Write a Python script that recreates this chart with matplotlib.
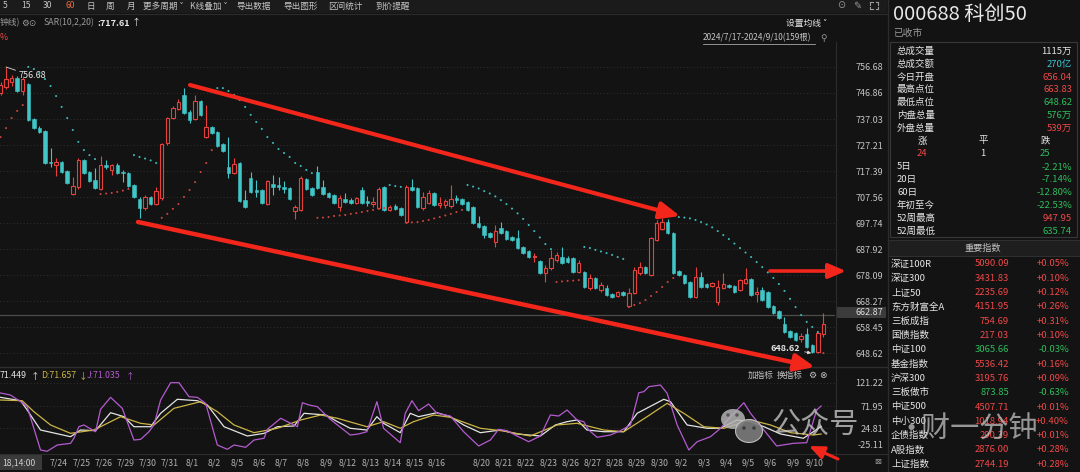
import numpy as np
import matplotlib
matplotlib.use("Agg")
import matplotlib.pyplot as plt
from matplotlib.patches import Rectangle, Ellipse

plt.rcParams['font.family'] = ['Noto Sans CJK SC', 'DejaVu Sans']

# --- 60-minute bars of 科创50 ---
opens = [
    746.86, 749.12, 751.01, 752.52, 747.61, 750.25, 737.04, 733.64, 732.50, 720.80,
    719.66, 720.80, 717.40, 708.71, 711.35, 721.55, 717.02, 714.00, 710.60, 719.66,
    717.77, 719.66, 717.02, 716.64, 712.11, 706.82, 703.42, 707.58, 704.93, 707.20,
    727.97, 737.41, 740.81, 746.10, 739.68, 737.04, 743.83, 730.24, 734.02, 732.13,
    727.59, 718.91, 716.64, 720.42, 706.44, 714.75, 710.22, 710.22, 704.93, 712.49,
    712.11, 711.35, 710.98, 702.29, 702.67, 714.38, 710.98, 717.02, 711.35, 709.09,
    708.33, 703.80, 706.82, 706.44, 705.31, 710.22, 706.07, 704.93, 703.42, 711.35,
    702.67, 704.18, 703.42, 698.14, 711.35, 710.98, 703.42, 705.31, 709.09, 704.56,
    704.56, 704.18, 707.20, 706.82, 705.69, 703.80, 697.76, 696.62, 693.98, 690.58,
    695.87, 694.74, 692.47, 692.10, 688.69, 687.18, 684.92, 683.41, 678.88, 680.77,
    683.79, 684.92, 684.54, 684.54, 679.26, 679.26, 673.21, 676.99, 672.46, 673.21,
    670.95, 670.19, 671.70, 666.41, 671.33, 678.88, 681.14, 678.12, 691.34, 695.49,
    698.14, 693.98, 679.64, 678.12, 675.47, 669.81, 677.37, 674.72, 673.97, 667.92,
    673.21, 674.34, 673.97, 672.46, 675.10, 676.61, 670.95, 672.46, 671.70, 666.41,
    664.52, 659.61, 656.97, 656.21, 653.95, 655.84, 651.68, 648.90, 655.84]
highs = [
    751.01, 756.68, 753.66, 753.28, 752.90, 750.63, 737.41, 734.39, 732.88, 726.08,
    722.31, 721.17, 717.77, 715.13, 722.31, 721.93, 717.40, 718.53, 723.06, 721.55,
    720.04, 720.42, 717.77, 717.02, 712.49, 707.58, 708.33, 707.96, 711.35, 727.97,
    737.79, 741.95, 744.59, 748.74, 740.44, 746.10, 744.21, 742.32, 734.39, 732.50,
    727.97, 730.24, 722.31, 720.80, 710.22, 717.02, 714.00, 710.60, 714.00, 715.89,
    715.13, 713.62, 711.35, 704.56, 715.51, 714.75, 711.35, 719.29, 714.00, 709.47,
    708.71, 708.33, 709.09, 707.20, 707.58, 711.35, 707.96, 707.58, 711.35, 711.73,
    704.56, 704.93, 703.80, 712.11, 714.38, 711.35, 709.47, 710.22, 709.47, 707.58,
    706.82, 712.11, 708.33, 707.20, 706.07, 704.18, 700.40, 697.00, 694.36, 697.00,
    698.14, 695.12, 692.85, 695.12, 689.07, 687.56, 686.43, 683.79, 681.90, 687.56,
    686.80, 688.69, 685.30, 684.92, 683.79, 679.64, 678.50, 677.37, 675.47, 674.34,
    671.33, 672.08, 672.08, 673.21, 681.14, 683.03, 681.52, 692.47, 698.89, 699.65,
    699.27, 694.36, 680.01, 678.50, 675.85, 681.14, 679.26, 675.10, 675.47, 676.23,
    678.88, 674.72, 674.34, 676.61, 680.77, 676.99, 673.59, 673.59, 672.08, 666.79,
    664.90, 662.26, 657.35, 656.59, 656.21, 658.10, 652.06, 656.59, 663.83]
lows = [
    746.10, 748.37, 749.50, 747.23, 746.10, 736.28, 733.26, 731.75, 720.04, 718.91,
    715.51, 716.64, 712.49, 708.33, 710.60, 716.26, 713.24, 710.60, 710.22, 718.15,
    715.89, 716.26, 713.24, 711.35, 707.20, 699.65, 702.67, 704.56, 704.56, 706.44,
    727.22, 737.04, 740.44, 738.92, 735.53, 736.66, 738.17, 729.86, 731.37, 726.46,
    724.57, 714.75, 716.26, 705.69, 703.42, 709.09, 707.58, 704.93, 704.56, 708.33,
    710.22, 709.09, 706.44, 699.27, 702.29, 710.22, 707.96, 710.60, 708.33, 707.20,
    704.93, 702.29, 705.31, 704.93, 704.93, 704.93, 704.18, 703.80, 703.05, 702.29,
    702.29, 702.67, 700.40, 697.76, 709.84, 703.42, 702.67, 704.93, 704.18, 703.42,
    703.42, 703.42, 705.31, 704.56, 702.29, 697.38, 695.87, 692.10, 692.10, 688.69,
    693.60, 691.34, 690.96, 687.94, 686.05, 684.54, 683.03, 678.50, 675.47, 680.01,
    683.03, 682.27, 682.65, 678.88, 678.88, 673.21, 672.46, 672.84, 671.70, 670.19,
    669.43, 669.81, 670.19, 666.03, 670.95, 678.12, 678.50, 677.74, 690.96, 695.12,
    693.60, 678.50, 677.74, 674.72, 669.43, 669.43, 673.21, 673.21, 673.59, 666.79,
    672.84, 673.21, 671.33, 672.08, 674.72, 670.19, 667.92, 668.30, 665.65, 663.39,
    661.50, 656.21, 654.32, 653.19, 652.81, 650.54, 648.62, 648.80, 654.70]
closes = [
    749.88, 752.14, 752.52, 747.61, 752.14, 736.66, 733.64, 732.13, 720.42, 720.42,
    720.80, 717.02, 712.86, 711.73, 721.55, 716.64, 713.62, 710.98, 719.66, 718.91,
    719.66, 716.64, 716.64, 711.73, 707.58, 703.42, 707.58, 704.93, 709.84, 727.59,
    737.41, 741.19, 743.46, 739.30, 736.66, 743.83, 738.55, 734.02, 731.75, 726.84,
    724.95, 716.64, 720.04, 706.07, 703.80, 709.47, 709.47, 705.31, 713.62, 711.35,
    711.35, 710.60, 706.82, 703.80, 714.75, 710.60, 708.33, 710.98, 708.71, 707.58,
    705.31, 707.20, 705.69, 705.31, 707.20, 705.31, 705.31, 705.69, 710.60, 702.67,
    703.80, 703.05, 700.78, 711.35, 710.22, 703.80, 707.58, 709.09, 704.56, 705.31,
    706.07, 706.82, 706.44, 704.93, 702.67, 697.76, 696.25, 693.23, 692.47, 694.74,
    693.98, 691.71, 691.34, 688.32, 686.43, 684.92, 685.30, 678.88, 680.77, 684.54,
    685.67, 682.65, 683.03, 679.26, 682.65, 673.59, 676.99, 673.21, 674.34, 670.57,
    669.81, 671.70, 670.57, 671.33, 680.01, 681.14, 678.88, 692.10, 697.76, 698.14,
    693.98, 678.88, 678.12, 675.10, 669.81, 677.37, 673.59, 673.59, 675.10, 673.59,
    674.72, 673.59, 671.70, 676.23, 676.61, 670.57, 671.70, 668.68, 666.03, 663.77,
    661.88, 656.59, 654.70, 653.57, 655.08, 650.92, 649.04, 656.21, 659.61]

# SAR(10,2,20) dots
sar = [
    730.2, 733.6, 737.4, 740.1, 742.3,
    756.7, 755.9, 754.4, 752.1, 749.5, 745.7, 741.6, 737.4, 732.9, 728.4, 725.3, 723.4, 721.9,
    708.7, 708.9, 709.1, 709.5, 710.0, 710.6,
    723.4, 722.7, 722.1, 721.4, 720.4,
    699.7, 701.2, 703.1, 704.9, 707.6, 710.2, 713.2, 717.0, 720.4, 725.3,
    748.7, 748.7, 747.6, 746.1, 744.2, 741.6, 738.6, 735.9, 733.3, 730.2, 728.0, 725.7,
    724.2, 722.7, 720.4, 719.3, 717.8, 716.6,
    699.7, 699.8, 700.0, 700.4, 700.6, 700.8, 701.2, 701.5, 701.9, 702.3, 702.7, 703.1, 703.4,
    712.1, 711.7, 711.4,
    697.8, 698.0, 698.1, 698.5, 698.9, 699.5, 700.0, 700.6, 701.2, 701.9, 702.7,
    712.1, 711.5, 710.8, 709.8, 708.9, 707.8, 706.4, 704.9, 703.2, 701.4, 699.3, 697.0,
    694.7, 692.3, 689.8, 687.9,
    675.5, 675.7, 675.9, 676.0, 676.2,
    688.7, 688.3, 687.6, 687.0, 686.4, 685.7, 684.9, 684.2,
    666.0, 666.8, 667.5, 668.7, 670.2, 671.7, 673.6, 675.5, 677.0,
    700.0, 699.8, 699.5, 698.9, 698.1, 697.2, 696.1, 694.7, 693.2, 691.7, 690.0, 688.3,
    686.6, 684.9, 683.0, 681.1, 679.1, 677.0, 674.7, 672.1, 669.1, 666.0, 663.0, 660.4,
    658.5, 656.6,
    648.62]
last_price = 662.87

# KDJ lines: (bar position, value) vertices
kdj_k_pos = [0, 3.6, 4.8, 7.2, 12.6, 14.4, 17.1, 19.8, 22.2, 24.0, 27.0, 28.8, 31.8, 35.4,
             37.2, 40.2, 44.4, 47.4, 49.8, 52.8, 54.6, 58.5, 60.6, 62.9, 65.9, 67.7, 68.9,
             71.9, 73.7, 75.2, 78.5, 80.9, 83.3, 86.3, 89.9, 92.9, 97.1, 99.8, 101.9, 103.7,
             105.5, 108.5, 112.1, 114.5, 119.3, 120.5, 123.5, 127.1, 129.5, 132.5, 134.9,
             137.3, 140.3, 144.4, 146.2, 147.6]
kdj_k = [90.5, 83.3, 63.4, 20.5, 6.2, 20.5, 19.1, 57.6, 49.1, 27.6, 27.6, 56.3, 86.3, 83.3,
         74.1, 27.6, 7.7, 13.4, 27.6, 29.1, 56.3, 52.7, 38.4, 24.2, 20.5, 49.1, 34.9, 14.8,
         56.3, 49.1, 57.6, 49.1, 31.3, 14.8, 20.5, 12.0, 7.7, 31.3, 38.4, 42.0, 20.5, 16.9,
         16.9, 56.3, 86.3, 81.2, 31.3, 24.2, 24.2, 42.0, 38.4, 27.6, 12.0, 2.8, 16.9, 28.0]
kdj_d_pos = [0, 3.9, 6.0, 9.0, 12.6, 16.8, 21.6, 25.2, 27.6, 31.2, 36.0, 39.0, 42.0, 45.6,
             49.8, 54.0, 57.6, 60.6, 65.9, 68.9, 71.9, 74.3, 77.9, 80.9, 86.3, 90.5, 95.3,
             100.1, 103.7, 108.5, 112.1, 116.3, 119.9, 122.9, 126.5, 130.1, 134.9, 138.5,
             142.1, 146.2, 147.6]
kdj_d = [84.8, 83.3, 59.8, 31.3, 13.4, 20.5, 49.1, 34.9, 31.3, 67.0, 81.2, 59.8, 31.3, 14.8,
         24.2, 42.0, 52.7, 45.6, 27.6, 38.4, 24.2, 38.4, 52.7, 47.7, 24.2, 18.4, 7.7, 31.3,
         34.9, 20.5, 16.9, 49.1, 77.7, 56.3, 27.6, 24.2, 42.0, 31.3, 14.8, 9.8, 12.0]
kdj_j_pos = [0, 1.8, 3.9, 4.8, 7.2, 8.4, 10.2, 12.6, 13.2, 14.1, 15.0, 17.1, 18.0, 19.8,
             21.9, 24.0, 25.2, 26.7, 27.6, 28.8, 30.6, 32.1, 33.9, 35.4, 36.9, 39.0, 40.8,
             42.0, 44.1, 45.6, 47.4, 48.0, 50.4, 52.2, 53.4, 54.3, 55.5, 57.0, 59.1, 60.6,
             62.9, 64.4, 65.9, 67.7, 68.9, 71.9, 72.8, 74.0, 75.2, 77.0, 78.5, 80.9, 83.3,
             86.0, 88.1, 89.6, 91.1, 92.9, 95.0, 97.1, 98.9, 100.4, 101.9, 103.7, 104.9,
             105.8, 107.3, 109.7, 111.5, 113.3, 114.8, 115.7, 116.6, 118.7, 119.9, 121.7,
             123.8, 125.3, 127.7, 129.5, 131.3, 133.7, 134.9, 137.3, 139.6, 142.6, 145.0,
             146.8, 147.6]
kdj_j = [99.8, 95.5, 79.0, 70.5, -22.3, -25.0, -11.6, -8.0, 2.8, 27.6, 31.3, 16.9, 64.9,
         90.5, 67.0, -0.9, 0.5, 16.9, 31.3, 84.8, 121.9, 121.9, 91.9, 90.5, 77.7, -11.6,
         -20.8, -11.6, -16.5, -0.9, 2.8, 22.0, 45.6, 34.9, 27.6, 79.0, 74.1, 70.5, 45.6,
         31.3, 9.8, 12.0, 16.9, 81.2, 24.2, -6.6, 56.3, 83.3, 61.9, 76.2, 56.3, 50.5, 16.9,
         -13.7, -0.9, 22.0, 19.1, 7.7, -4.5, 7.7, 52.7, 50.5, 63.4, 42.0, 38.4, 20.5, 4.9,
         9.8, 19.1, 31.3, 100.4, 102.6, 113.3, 116.9, 99.1, 31.3, -22.3, -4.5, 6.2, 24.2,
         49.1, 79.0, 56.3, 20.5, -13.7, -8.0, -6.6, 63.4, 72.0]

days = ['7/24', '7/25', '7/26', '7/29', '7/30', '7/31', '8/1', '8/2', '8/5', '8/6', '8/7',
        '8/8', '8/9', '8/12', '8/13', '8/14', '8/15', '8/16', '8/19', '8/20', '8/21', '8/22',
        '8/23', '8/26', '8/27', '8/28', '8/29', '8/30', '9/2', '9/3', '9/4', '9/5', '9/6',
        '9/9', '9/10']
hidden_days = ['8/19']
price_ticks = [756.68, 746.86, 737.03, 727.21, 717.39, 707.56, 697.74, 687.92, 678.09,
               668.27, 658.45, 648.62]
kdj_ticks = [121.22, 71.95, 24.81]
kdj_low_label = '-25.11'

# right-hand quote panel
stat_names = ['总成交量', '总成交额', '今日开盘', '最高点位', '最低点位', '内盘总量', '外盘总量']
stat_values = ['1115万', '270亿', '656.04', '663.83', '648.62', '576万', '539万']
breadth_names = ['涨', '平', '跌']
breadth_counts = [24, 1, 25]
perf_names = ['5日', '20日', '60日', '年初至今', '52周最高', '52周最低']
perf_values = ['-2.21%', '-7.14%', '-12.80%', '-22.53%', '947.95', '635.74']
index_names = ['深证100R', '深证300', '上证50', '东方财富全A', '三板成指', '国债指数', '中证100',
               '基金指数', '沪深300', '三板做市', '中证500', '中小300', '企债指数', 'A股指数', '上证指数']
index_values = [5090.09, 3431.83, 2235.69, 4151.95, 754.69, 217.03, 3065.66, 5536.42,
                3195.76, 873.85, 4507.71, 1018.94, 290.39, 2876.00, 2744.19]
index_changes = [0.05, 0.10, 0.12, 0.26, 0.31, 0.10, -0.03, 0.16, 0.09, -0.63, 0.01, 0.40,
                 0.01, 0.28, 0.28]

# --- style ---
W, H = 1080, 472
BG = '#131313'
RED = '#e8413d'
CYAN = '#41c5c7'
ARROW = '#f2261b'
UPRED = '#f04848'
GREEN = '#2fbd5c'
TEAL = '#3cc4d0'
TXT = '#c4c4c4'
GREY = '#9a9a9a'
WHITE = '#e6e6e6'
LINE = '#2c2c2c'
PX_BAR = 5.56    # pixels per bar in the reference

fig = plt.figure(figsize=(W / 100, H / 100), dpi=100, facecolor=BG)


def rect(x0, y0, x1, y1):
    return [x0 / W, 1 - y1 / H, (x1 - x0) / W, (y1 - y0) / H]


ax = fig.add_axes(rect(0, 45, 835, 365), facecolor=BG)
kx = fig.add_axes(rect(0, 368, 835, 452), facecolor=BG)
ov = fig.add_axes([0, 0, 1, 1])
ov.set_xlim(0, W)
ov.set_ylim(H, 0)
ov.axis('off')

xlim = (-0.5 / PX_BAR, (835 - 0.5) / PX_BAR)
for a in (ax, kx):
    a.set_xlim(*xlim)
    for s in a.spines.values():
        s.set_visible(False)

# --- candles ---
o, h, l, c = (np.array(v) for v in (opens, highs, lows, closes))
idx = np.arange(len(o))
up = c > o
ax.vlines(idx, l, h, colors=np.where(up, RED, CYAN), lw=0.8, zorder=2)
lo = np.minimum(o, c)
hh = np.maximum(np.abs(c - o), 0.3)
ax.bar(idx[up], hh[up], bottom=lo[up], width=0.62, facecolor=BG, edgecolor=RED,
       lw=0.8, zorder=3)
ax.bar(idx[~up], hh[~up], bottom=lo[~up], width=0.62, facecolor=CYAN, edgecolor=CYAN,
       lw=0.4, zorder=3)

# SAR dots: red below price, cyan above
sar_a = np.array(sar)
sar_col = np.where(sar_a < (h + l) / 2, '#c9433d', '#3cb8b8')
ax.scatter(idx, sar_a, s=2.2, c=sar_col, linewidths=0, zorder=4)

ax.set_ylim(644.13, 764.98)
for p in price_ticks:
    ax.axhline(p, color='#3a3a3a', lw=0.6, ls=(0, (1, 3)), zorder=0)
ax.axhline(last_price, color='#4c4c4c', lw=0.9, zorder=1)
ax.set_xticks([])
ax.yaxis.tick_right()
ax.set_yticks(price_ticks)
ax.set_yticklabels([f'{p:.2f}' for p in price_ticks], ha='right')
ax.tick_params(axis='y', length=0, pad=34.5, labelsize=6.5, labelcolor=TXT)

hi = int(np.argmax(h))
ax.annotate(f'{h[hi]:.2f}', xy=(hi, h[hi]), xytext=(hi + 2.2, h[hi] - 3.4),
            color=WHITE, fontsize=6.5, va='center',
            arrowprops=dict(arrowstyle='-', color='#dddddd', lw=0.6, shrinkA=0, shrinkB=0))
li = int(np.argmin(l))
ax.annotate(f'{l[li]:.2f}', xy=(li - 0.2, l[li]), xytext=(li - 2.1, l[li] + 1.9),
            color=WHITE, fontsize=6.5, va='center', ha='right', fontweight='bold',
            arrowprops=dict(arrowstyle='-|>,head_length=0.3,head_width=0.15',
                            color='#dddddd', lw=0.6, shrinkA=1, shrinkB=0))

# --- KDJ ---
kx.plot(kdj_k_pos, kdj_k, color='#e4e4e4', lw=0.9, zorder=3)
kx.plot(kdj_d_pos, kdj_d, color='#cbb546', lw=0.9, zorder=3)
kx.plot(kdj_j_pos, kdj_j, color='#b45bd0', lw=0.9, zorder=3)
kx.set_ylim(-26.58, 153.35)
for v in kdj_ticks:
    kx.axhline(v, color='#3a3a3a', lw=0.6, ls=(0, (1, 3)), zorder=0)
kx.yaxis.tick_right()
kx.set_yticks(kdj_ticks)
kx.set_yticklabels([f'{v:.2f}' for v in kdj_ticks], ha='right')
kx.tick_params(axis='y', length=0, pad=34.5, labelsize=6.5, labelcolor=TXT)
shown = [d for d in days if d not in hidden_days]
kx.set_xticks([10.5 + 4 * days.index(d) for d in shown])
kx.set_xticklabels(shown)
kx.tick_params(axis='x', length=0, pad=4.5, labelsize=6.3, labelcolor='#b0b0b0')


# --- chrome drawn in pixel space ---
def t(x, y, s, color=TXT, size=6.5, ha='left', **kw):
    ov.text(x, y, s, color=color, fontsize=size, ha=ha, va='center', **kw)


ov.add_patch(Rectangle((0, 0), 887, 13, facecolor='#1b1b1b', edgecolor='none'))
ov.plot([0, 887], [13.5, 13.5], color=LINE, lw=0.8)
ov.plot([835.5, 835.5], [42, 472], color=LINE, lw=0.8)
ov.plot([0, 887], [366.5, 366.5], color='#2e2e2e', lw=1.0)
ov.plot([0, 887], [453.5, 453.5], color=LINE, lw=0.8)
ov.plot([887.5, 887.5], [0, 472], color=LINE, lw=1.0)

toolbar = [(3, '5'), (21, '15'), (43, '30'), (65, '60'), (87, '日'), (106, '周'), (127, '月'),
           (143, '更多周期 ˅'), (190, 'K线叠加 ˅'), (236, '导出数据'), (283, '导出图形'),
           (328, '区间统计'), (375, '到价提醒')]
for x, s in toolbar:
    t(x, 6, s, color='#ec6a3a' if s == '60' else TXT, size=6.2)
t(837, 5.5, '⊙', color=GREY, size=7, family='DejaVu Sans')
t(853, 5.5, '✎', color=GREY, size=7, family='DejaVu Sans')
# expand icon: four small corner marks
for sx in (-1, 1):
    for sy in (-1, 1):
        cx, cy = 874 + 4 * sx, 5.5 + 3.5 * sy
        ov.plot([cx, cx - 2.5 * sx], [cy, cy], color=GREY, lw=0.8)
        ov.plot([cx, cx], [cy, cy - 2.5 * sy], color=GREY, lw=0.8)

t(0, 23, '钟线)', color=GREY, size=6.3)
t(21, 23, '⚙', color=GREY, size=6.3, family='DejaVu Sans')
t(28, 23, '⊙', color=GREY, size=6.3, family='DejaVu Sans')
t(44, 23, 'SAR(10,2,20)', color=GREY, size=6.3)
t(97, 23, ':717.61', color=WHITE, size=6.5, fontweight='bold')
t(132, 23, '↑', color=WHITE, size=6.5)
t(0, 38, '%', color=UPRED, size=6.3)
t(786, 23, '设置均线 ˅', color=WHITE, size=6.3)
t(703, 38, '2024/7/17-2024/9/10(159根)', color=TXT, size=6.0)
ov.plot([703, 815], [43.5, 43.5], color=TXT, lw=0.5)
t(820, 38, '⚲', color=GREY, size=6.3, family='DejaVu Sans')

# price marker box
ov.add_patch(Rectangle((836, 307), 50, 11, facecolor='#3b3b3b', edgecolor='none'))
t(883, 312.5, f'{last_price:.2f}', color='#dcdcdc', size=6.5, ha='right')

# KDJ header
t(0, 376, '71.449', color=WHITE, size=6.3)
t(31, 376, '↑', color=WHITE, size=6.3)
t(41, 376, 'D:71.657', color='#cbb546', size=6.3)
t(79, 376, '↓', color='#cbb546', size=6.3)
t(87, 376, 'J:71.035', color='#b45bd0', size=6.3)
t(126, 376, '↑', color='#b45bd0', size=6.3)
t(748, 375, '加指标', color=TXT, size=6.2)
t(777, 375, '换指标', color=TXT, size=6.2)
t(808, 375, '⚙', color=TXT, size=6.5, family='DejaVu Sans')
t(819, 375, '⊗', color=TXT, size=6.5, family='DejaVu Sans')
t(883, 445, kdj_low_label, color=TXT, size=6.5, ha='right')
t(874, 462, '⊠', color=GREY, size=6.0, family='DejaVu Sans')

ov.add_patch(Rectangle((0, 455), 42, 15, facecolor='#3a3a3a', edgecolor='none'))
t(2, 462.5, '18,14:00', color='#cfcfcf', size=6.2)


# hand-drawn red arrows
def arrow(x0, y0, x1, y1, lw, scale):
    ov.annotate('', xy=(x1, y1), xytext=(x0, y0),
                arrowprops=dict(arrowstyle='-|>,head_length=0.75,head_width=0.32',
                                color=ARROW, lw=lw, shrinkA=0, shrinkB=0,
                                mutation_scale=scale))


arrow(190, 85, 680, 216, 3.0, 16)
arrow(138, 222, 815, 367, 3.2, 16)
arrow(770, 271, 846, 271, 2.6, 14)
arrow(838, 459, 809, 446, 2.2, 12)

# right quote panel
t(893, 14, '000688 科创50', color='#e8e8e8', size=14.5)
t(893, 33, '已收市', color=GREY, size=7)
ov.add_patch(Rectangle((890, 42), 187, 195, facecolor='none', edgecolor='#383838', lw=0.8))
stat_colors = [WHITE, TEAL, UPRED, UPRED, GREEN, GREEN, UPRED]
for i, (nm, val) in enumerate(zip(stat_names, stat_values)):
    y = 51.5 + 12.8 * i
    t(897, y, nm, color=WHITE, size=6.8)
    t(1072, y, val, color=stat_colors[i], size=6.8, ha='right')
breadth_x = [922, 983, 1045]
breadth_colors = [UPRED, WHITE, GREEN]
for x, nm, cnt, col in zip(breadth_x, breadth_names, breadth_counts, breadth_colors):
    t(x, 141, nm, color=WHITE, size=6.8, ha='center')
    t(x, 154, str(cnt), color=col, size=6.8, ha='center')
for i, (nm, val) in enumerate(zip(perf_names, perf_values)):
    y = 167 + 12.8 * i
    col = GREEN if val.startswith('-') else (UPRED if i == 4 else GREEN)
    t(897, y, nm, color=WHITE, size=6.8)
    t(1072, y, val, color=col, size=6.8, ha='right')

ov.add_patch(Rectangle((888, 240), 192, 16, facecolor='#1e1e1e', edgecolor='#303030', lw=0.7))
t(983, 248, '重要指数', color=TXT, size=6.6, ha='center')
for i, (nm, val, chg) in enumerate(zip(index_names, index_values, index_changes)):
    y = 264 + 14.3 * i
    col = GREEN if chg < 0 else UPRED
    t(891, y, nm, color=WHITE, size=6.8)
    t(1009, y, f'{val:.2f}', color=col, size=6.8, ha='right')
    t(1069, y, f'{chg:+.2f}%', color=col, size=6.8, ha='right')

# watermark
ov.add_patch(Ellipse((733, 419), 24, 20, facecolor='#b4b4b4', edgecolor='none', alpha=0.85))
ov.add_patch(Ellipse((749, 431), 27, 23, facecolor='#7c7c7c', edgecolor='#c8c8c8',
                     lw=0.8, alpha=0.9))
for ex, ey, col in [(728, 415, '#555555'), (737, 415, '#555555'),
                    (744, 428, '#3a3a3a'), (754, 428, '#3a3a3a')]:
    ov.add_patch(Ellipse((ex, ey), 3.5, 3.5, facecolor=col, edgecolor='none'))
t(772, 426, '公众号', color='#cfcfcf', size=21, alpha=0.75)
t(897, 430, '·', color='#cfcfcf', size=21, alpha=0.7)
t(921, 430, '财一分钟', color='#cfcfcf', size=21, alpha=0.7)

fig.savefig('out.png', dpi=100, facecolor=BG)
